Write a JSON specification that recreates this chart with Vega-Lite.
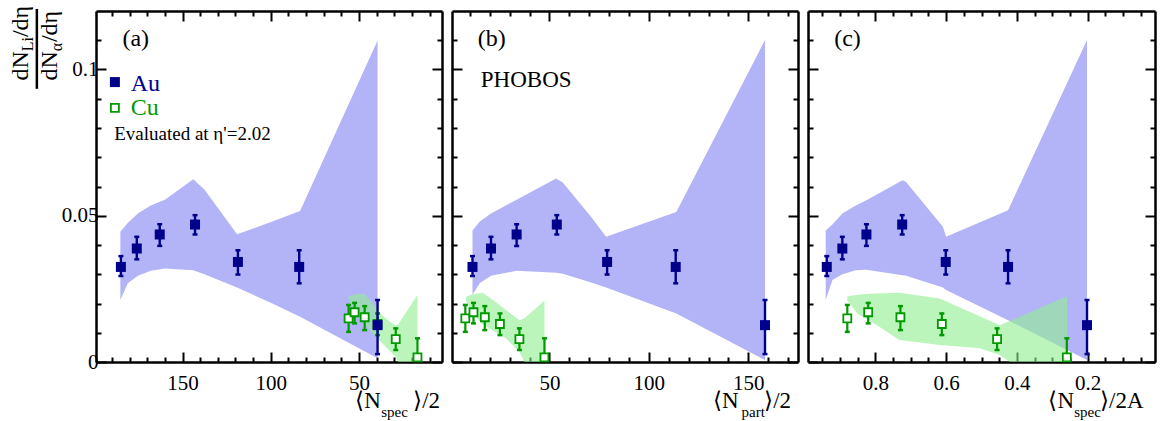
{
  "$schema": "https://vega.github.io/schema/vega-lite/v6.json",
  "description": "Li to alpha yield ratio vs centrality for Au and Cu, three x variables.",
  "padding": {"left": 8, "top": 5, "right": 5, "bottom": 0},
  "spacing": 8,
  "config": {
    "font": "Liberation Serif",
    "view": {"stroke": null},
    "axis": {
      "domainColor": "black",
      "domainWidth": 2.5,
      "tickColor": "black",
      "tickWidth": 2,
      "grid": false,
      "labelFont": "Liberation Serif",
      "labelFontSize": 21,
      "labelColor": "black",
      "labelOverlap": false,
      "labelFlush": false
    }
  },
  "datasets": {
    "au": [
      {"spec": 184.9, "part": 11.3, "frac": 0.937, "r": 0.0325, "lo": 0.0294, "hi": 0.0362},
      {"spec": 175.9, "part": 20.6, "frac": 0.893, "r": 0.0388, "lo": 0.0351, "hi": 0.0428},
      {"spec": 162.9, "part": 33.5, "frac": 0.825, "r": 0.0436, "lo": 0.0397, "hi": 0.0471},
      {"spec": 142.9, "part": 53.7, "frac": 0.724, "r": 0.0470, "lo": 0.0436, "hi": 0.0502},
      {"spec": 118.6, "part": 79.0, "frac": 0.601, "r": 0.0342, "lo": 0.0299, "hi": 0.0382},
      {"spec": 83.9, "part": 113.5, "frac": 0.425, "r": 0.0325, "lo": 0.0269, "hi": 0.0382},
      {"spec": 39.5, "part": 158.4, "frac": 0.202, "r": 0.0126, "lo": 0.0027, "hi": 0.0212}
    ],
    "cu": [
      {"spec": 55.9, "part": 7.7, "frac": 0.879, "r": 0.0149, "lo": 0.0103, "hi": 0.0195},
      {"spec": 52.5, "part": 11.8, "frac": 0.820, "r": 0.0170, "lo": 0.0132, "hi": 0.0202},
      {"spec": 46.8, "part": 17.5, "frac": 0.729, "r": 0.0153, "lo": 0.0109, "hi": 0.0191},
      {"spec": 39.5, "part": 25.1, "frac": 0.612, "r": 0.0130, "lo": 0.0092, "hi": 0.0166},
      {"spec": 29.2, "part": 34.9, "frac": 0.456, "r": 0.0078, "lo": 0.0041, "hi": 0.0115},
      {"spec": 16.9, "part": 47.5, "frac": 0.259, "r": 0.0016, "lo": -0.0050, "hi": 0.0081}
    ],
    "one": [{}],
    "auBandSpec": [
      {"x": 185.2, "lo": 0.0212, "hi": 0.0445},
      {"x": 181, "lo": 0.0269, "hi": 0.0475},
      {"x": 175.3, "lo": 0.0295, "hi": 0.0508},
      {"x": 168, "lo": 0.0312, "hi": 0.0535},
      {"x": 160, "lo": 0.032, "hi": 0.0555},
      {"x": 143.9, "lo": 0.0314, "hi": 0.0625},
      {"x": 137.6, "lo": 0.0300, "hi": 0.0590},
      {"x": 119.1, "lo": 0.0255, "hi": 0.0437},
      {"x": 99.1, "lo": 0.0200, "hi": 0.0480},
      {"x": 83.4, "lo": 0.0155, "hi": 0.0516},
      {"x": 39.5, "lo": 0.0013, "hi": 0.1099}
    ],
    "auBandPart": [
      {"x": 11.3, "lo": 0.023, "hi": 0.045},
      {"x": 15, "lo": 0.027, "hi": 0.048},
      {"x": 20.6, "lo": 0.0295, "hi": 0.0508},
      {"x": 33.5, "lo": 0.0312, "hi": 0.0555},
      {"x": 53.3, "lo": 0.0305, "hi": 0.0627},
      {"x": 56.7, "lo": 0.0302, "hi": 0.0614},
      {"x": 71, "lo": 0.0272, "hi": 0.0496},
      {"x": 78.5, "lo": 0.0255, "hi": 0.0428},
      {"x": 113.8, "lo": 0.0166, "hi": 0.0513},
      {"x": 158.4, "lo": 0.0007, "hi": 0.1101}
    ],
    "auBandFrac": [
      {"x": 0.94, "lo": 0.0212, "hi": 0.045},
      {"x": 0.921, "lo": 0.028, "hi": 0.047},
      {"x": 0.893, "lo": 0.030, "hi": 0.0508},
      {"x": 0.855, "lo": 0.0314, "hi": 0.0535},
      {"x": 0.825, "lo": 0.0315, "hi": 0.0553},
      {"x": 0.723, "lo": 0.0297, "hi": 0.0621},
      {"x": 0.713, "lo": 0.0295, "hi": 0.0615},
      {"x": 0.609, "lo": 0.0255, "hi": 0.0462},
      {"x": 0.6, "lo": 0.0246, "hi": 0.0428},
      {"x": 0.425, "lo": 0.0143, "hi": 0.0519},
      {"x": 0.202, "lo": 0.0007, "hi": 0.1101}
    ],
    "cuBandSpec": [
      {"x": 56, "lo": 0.0212, "hi": 0.0225},
      {"x": 52.5, "lo": 0.0166, "hi": 0.0232},
      {"x": 47.2, "lo": 0.0135, "hi": 0.0234},
      {"x": 42, "lo": 0.0095, "hi": 0.0200},
      {"x": 37.8, "lo": 0.0070, "hi": 0.0165},
      {"x": 33, "lo": 0.0040, "hi": 0.0140},
      {"x": 29.2, "lo": 0.0018, "hi": 0.0125},
      {"x": 27.7, "lo": 0, "hi": 0.0130},
      {"x": 16.9, "lo": 0, "hi": 0.0229}
    ],
    "cuBandPart": [
      {"x": 8, "lo": 0.021, "hi": 0.0223},
      {"x": 11.3, "lo": 0.0166, "hi": 0.0232},
      {"x": 16.4, "lo": 0.0128, "hi": 0.0237},
      {"x": 22, "lo": 0.0105, "hi": 0.021},
      {"x": 28.1, "lo": 0.0081, "hi": 0.0178},
      {"x": 34.9, "lo": 0.0035, "hi": 0.0143},
      {"x": 37.4, "lo": 0, "hi": 0.0150},
      {"x": 47.5, "lo": 0, "hi": 0.0209}
    ],
    "cuBandFrac": [
      {"x": 0.879, "lo": 0.021, "hi": 0.0225},
      {"x": 0.85, "lo": 0.0165, "hi": 0.023},
      {"x": 0.817, "lo": 0.0143, "hi": 0.0233},
      {"x": 0.732, "lo": 0.0075, "hi": 0.0237},
      {"x": 0.618, "lo": 0.0058, "hi": 0.0217},
      {"x": 0.505, "lo": 0.0047, "hi": 0.0156},
      {"x": 0.448, "lo": 0.0024, "hi": 0.0126},
      {"x": 0.42, "lo": 0, "hi": 0.0140},
      {"x": 0.372, "lo": 0, "hi": 0.0166},
      {"x": 0.258, "lo": 0, "hi": 0.0225}
    ]
  },
  "hconcat": [
    {
      "width": 346,
      "height": 351,
      "resolve": {"axis": {"x": "independent", "y": "independent"}},
      "layer": [
        {
          "data": {"name": "auBandSpec"},
          "mark": {"type": "area", "color": "#9a9af5", "opacity": 0.75, "clip": true},
          "encoding": {
            "x": {"field": "x", "type": "quantitative", "title": null,
              "scale": {"domain": [3, 199], "reverse": true, "nice": false, "zero": false},
              "axis": {"orient": "bottom", "title": null,
                "values": [10, 20, 30, 40, 50, 60, 70, 80, 90, 100, 110, 120, 130, 140, 150, 160, 170, 180, 190],
                "tickSize": {"condition": {"test": "datum.value % 50 === 0", "value": -10}, "value": -5},
                "labelExpr": "datum.value % 50 === 0 ? format(datum.value, 'd') : ''",
                "labelPadding": 20}},
            "y": {"field": "lo", "type": "quantitative", "title": null,
              "scale": {"domain": [0, 0.12], "nice": false, "zero": false},
              "axis": {"orient": "left", "title": null,
                "values": [0, 0.01, 0.02, 0.03, 0.04, 0.05, 0.06, 0.07, 0.08, 0.09, 0.1, 0.11],
                "tickSize": {"condition": {"test": "round(datum.value * 100) % 5 === 0", "value": -10}, "value": -5},
                "labelExpr": "round(datum.value * 100) === 0 ? '0' : round(datum.value * 100) === 5 ? '0.05' : round(datum.value * 100) === 10 ? '0.1' : ''",
                "labelPadding": 8}},
            "y2": {"field": "hi"}
          }
        },
        {
          "data": {"name": "cuBandSpec"},
          "mark": {"type": "area", "color": "#90ee90", "opacity": 0.6, "clip": true},
          "encoding": {
            "x": {"field": "x", "type": "quantitative",
              "axis": {"orient": "top", "title": null, "labels": false,
                "values": [10, 20, 30, 40, 50, 60, 70, 80, 90, 100, 110, 120, 130, 140, 150, 160, 170, 180, 190],
                "tickSize": {"condition": {"test": "datum.value % 50 === 0", "value": -10}, "value": -5}}},
            "y": {"field": "lo", "type": "quantitative",
              "axis": {"orient": "right", "title": null, "labels": false,
                "values": [0, 0.01, 0.02, 0.03, 0.04, 0.05, 0.06, 0.07, 0.08, 0.09, 0.1, 0.11],
                "tickSize": {"condition": {"test": "round(datum.value * 100) % 5 === 0", "value": -10}, "value": -5}}},
            "y2": {"field": "hi"}
          }
        },
        {
          "data": {"name": "cu"},
          "mark": {"type": "rule", "color": "#009900", "strokeWidth": 2.2, "clip": true},
          "encoding": {
            "x": {"field": "spec", "type": "quantitative", "axis": null},
            "y": {"field": "lo", "type": "quantitative", "axis": null},
            "y2": {"field": "hi"}
          }
        },
        {
          "data": {"name": "cu"},
          "mark": {"type": "tick", "orient": "horizontal", "size": 5, "thickness": 2.5, "color": "#009900", "opacity": 1, "clip": true},
          "encoding": {
            "x": {"field": "spec", "type": "quantitative", "axis": null},
            "y": {"field": "lo", "type": "quantitative", "axis": null}
          }
        },
        {
          "data": {"name": "cu"},
          "mark": {"type": "tick", "orient": "horizontal", "size": 5, "thickness": 2.5, "color": "#009900", "opacity": 1, "clip": true},
          "encoding": {
            "x": {"field": "spec", "type": "quantitative", "axis": null},
            "y": {"field": "hi", "type": "quantitative", "axis": null}
          }
        },
        {
          "data": {"name": "cu"},
          "mark": {"type": "point", "shape": "square", "size": 64, "filled": true, "fill": "white", "stroke": "#009900", "strokeWidth": 1.8, "opacity": 1},
          "encoding": {
            "x": {"field": "spec", "type": "quantitative", "axis": null},
            "y": {"field": "r", "type": "quantitative", "axis": null}
          }
        },
        {
          "data": {"name": "au"},
          "mark": {"type": "rule", "color": "#00008b", "strokeWidth": 2.4},
          "encoding": {
            "x": {"field": "spec", "type": "quantitative", "axis": null},
            "y": {"field": "lo", "type": "quantitative", "axis": null},
            "y2": {"field": "hi"}
          }
        },
        {
          "data": {"name": "au"},
          "mark": {"type": "tick", "orient": "horizontal", "size": 5, "thickness": 2.5, "color": "#00008b", "opacity": 1},
          "encoding": {
            "x": {"field": "spec", "type": "quantitative", "axis": null},
            "y": {"field": "lo", "type": "quantitative", "axis": null}
          }
        },
        {
          "data": {"name": "au"},
          "mark": {"type": "tick", "orient": "horizontal", "size": 5, "thickness": 2.5, "color": "#00008b", "opacity": 1},
          "encoding": {
            "x": {"field": "spec", "type": "quantitative", "axis": null},
            "y": {"field": "hi", "type": "quantitative", "axis": null}
          }
        },
        {
          "data": {"name": "au"},
          "mark": {"type": "point", "shape": "square", "size": 100, "filled": true, "color": "#00008b", "opacity": 1},
          "encoding": {
            "x": {"field": "spec", "type": "quantitative", "axis": null},
            "y": {"field": "r", "type": "quantitative", "axis": null}
          }
        },
        {
          "data": {"name": "one"},
          "mark": {"type": "text", "text": "(a)", "fontSize": 24, "align": "left", "baseline": "alphabetic"},
          "encoding": {"x": {"datum": 184, "type": "quantitative", "axis": null}, "y": {"datum": 0.1082, "type": "quantitative", "axis": null}}
        },
        {
          "data": {"name": "one"},
          "mark": {"type": "point", "shape": "square", "size": 100, "filled": true, "color": "#00008b", "opacity": 1},
          "encoding": {"x": {"datum": 188.3, "type": "quantitative", "axis": null}, "y": {"datum": 0.0957, "type": "quantitative", "axis": null}}
        },
        {
          "data": {"name": "one"},
          "mark": {"type": "text", "text": "Au", "fontSize": 24, "color": "#00008b", "align": "left", "baseline": "alphabetic"},
          "encoding": {"x": {"datum": 179.3, "type": "quantitative", "axis": null}, "y": {"datum": 0.0926, "type": "quantitative", "axis": null}}
        },
        {
          "data": {"name": "one"},
          "mark": {"type": "point", "shape": "square", "size": 64, "filled": true, "fill": "white", "stroke": "#009900", "strokeWidth": 1.8, "opacity": 1},
          "encoding": {"x": {"datum": 188.3, "type": "quantitative", "axis": null}, "y": {"datum": 0.0869, "type": "quantitative", "axis": null}}
        },
        {
          "data": {"name": "one"},
          "mark": {"type": "text", "text": "Cu", "fontSize": 24, "color": "#009900", "align": "left", "baseline": "alphabetic"},
          "encoding": {"x": {"datum": 179.3, "type": "quantitative", "axis": null}, "y": {"datum": 0.0843, "type": "quantitative", "axis": null}}
        },
        {
          "data": {"name": "one"},
          "mark": {"type": "text", "text": "Evaluated at η'=2.02", "fontSize": 19, "align": "left", "baseline": "alphabetic"},
          "encoding": {"x": {"datum": 188.7, "type": "quantitative", "axis": null}, "y": {"datum": 0.0758, "type": "quantitative", "axis": null}}
        },
        {
          "data": {"name": "one"},
          "mark": {"type": "text", "text": "dN", "fontSize": 24, "angle": 270, "align": "left", "baseline": "alphabetic"},
          "encoding": {"x": {"datum": 237.7, "type": "quantitative", "axis": null}, "y": {"datum": 0.0962, "type": "quantitative", "axis": null}}
        },
        {
          "data": {"name": "one"},
          "mark": {"type": "text", "text": "Li", "fontSize": 16, "angle": 270, "align": "left", "baseline": "alphabetic", "dx": 29.3, "dy": 5},
          "encoding": {"x": {"datum": 237.7, "type": "quantitative", "axis": null}, "y": {"datum": 0.0962, "type": "quantitative", "axis": null}}
        },
        {
          "data": {"name": "one"},
          "mark": {"type": "text", "text": "/dη", "fontSize": 24, "angle": 270, "align": "left", "baseline": "alphabetic", "dx": 43.5},
          "encoding": {"x": {"datum": 237.7, "type": "quantitative", "axis": null}, "y": {"datum": 0.0962, "type": "quantitative", "axis": null}}
        },
        {
          "data": {"name": "one"},
          "mark": {"type": "rule", "color": "black", "strokeWidth": 2.5},
          "encoding": {"x": {"datum": 232.5, "type": "quantitative", "axis": null}, "y": {"datum": 0.1207, "type": "quantitative", "axis": null}, "y2": {"datum": 0.0934}}
        },
        {
          "data": {"name": "one"},
          "mark": {"type": "text", "text": "dN", "fontSize": 24, "angle": 270, "align": "left", "baseline": "alphabetic"},
          "encoding": {"x": {"datum": 221, "type": "quantitative", "axis": null}, "y": {"datum": 0.0962, "type": "quantitative", "axis": null}}
        },
        {
          "data": {"name": "one"},
          "mark": {"type": "text", "text": "α", "fontSize": 16, "angle": 270, "align": "left", "baseline": "alphabetic", "dx": 29.3, "dy": 5},
          "encoding": {"x": {"datum": 221, "type": "quantitative", "axis": null}, "y": {"datum": 0.0962, "type": "quantitative", "axis": null}}
        },
        {
          "data": {"name": "one"},
          "mark": {"type": "text", "text": "/dη", "fontSize": 24, "angle": 270, "align": "left", "baseline": "alphabetic", "dx": 38.5},
          "encoding": {"x": {"datum": 221, "type": "quantitative", "axis": null}, "y": {"datum": 0.0962, "type": "quantitative", "axis": null}}
        },
        {
          "data": {"name": "one"},
          "mark": {"type": "text", "text": "⟨N", "fontSize": 23, "align": "left", "baseline": "alphabetic"},
          "encoding": {"x": {"datum": 52.1, "type": "quantitative", "axis": null}, "y": {"datum": -0.0157, "type": "quantitative", "axis": null}}
        },
        {
          "data": {"name": "one"},
          "mark": {"type": "text", "text": "spec", "fontSize": 15, "align": "left", "baseline": "alphabetic"},
          "encoding": {"x": {"datum": 37.4, "type": "quantitative", "axis": null}, "y": {"datum": -0.0188, "type": "quantitative", "axis": null}}
        },
        {
          "data": {"name": "one"},
          "mark": {"type": "text", "text": "⟩/2", "fontSize": 23, "align": "left", "baseline": "alphabetic"},
          "encoding": {"x": {"datum": 19.3, "type": "quantitative", "axis": null}, "y": {"datum": -0.0157, "type": "quantitative", "axis": null}}
        }
      ]
    },
    {
      "width": 346,
      "height": 351,
      "resolve": {"axis": {"x": "independent", "y": "independent"}},
      "layer": [
        {
          "data": {"name": "auBandPart"},
          "mark": {"type": "area", "color": "#9a9af5", "opacity": 0.75, "clip": true},
          "encoding": {
            "x": {"field": "x", "type": "quantitative",
              "scale": {"domain": [1, 175], "nice": false, "zero": false},
              "axis": {"orient": "bottom", "title": null,
                "values": [10, 20, 30, 40, 50, 60, 70, 80, 90, 100, 110, 120, 130, 140, 150, 160, 170],
                "tickSize": {"condition": {"test": "datum.value % 50 === 0", "value": -10}, "value": -5},
                "labelExpr": "datum.value % 50 === 0 ? format(datum.value, 'd') : ''",
                "labelPadding": 20}},
            "y": {"field": "lo", "type": "quantitative",
              "scale": {"domain": [0, 0.12], "nice": false, "zero": false},
              "axis": {"orient": "left", "title": null, "labels": false,
                "values": [0, 0.01, 0.02, 0.03, 0.04, 0.05, 0.06, 0.07, 0.08, 0.09, 0.1, 0.11],
                "tickSize": {"condition": {"test": "round(datum.value * 100) % 5 === 0", "value": -10}, "value": -5}}},
            "y2": {"field": "hi"}
          }
        },
        {
          "data": {"name": "cuBandPart"},
          "mark": {"type": "area", "color": "#90ee90", "opacity": 0.6, "clip": true},
          "encoding": {
            "x": {"field": "x", "type": "quantitative",
              "axis": {"orient": "top", "title": null, "labels": false,
                "values": [10, 20, 30, 40, 50, 60, 70, 80, 90, 100, 110, 120, 130, 140, 150, 160, 170],
                "tickSize": {"condition": {"test": "datum.value % 50 === 0", "value": -10}, "value": -5}}},
            "y": {"field": "lo", "type": "quantitative",
              "axis": {"orient": "right", "title": null, "labels": false,
                "values": [0, 0.01, 0.02, 0.03, 0.04, 0.05, 0.06, 0.07, 0.08, 0.09, 0.1, 0.11],
                "tickSize": {"condition": {"test": "round(datum.value * 100) % 5 === 0", "value": -10}, "value": -5}}},
            "y2": {"field": "hi"}
          }
        },
        {
          "data": {"name": "cu"},
          "mark": {"type": "rule", "color": "#009900", "strokeWidth": 2.2, "clip": true},
          "encoding": {
            "x": {"field": "part", "type": "quantitative", "axis": null},
            "y": {"field": "lo", "type": "quantitative", "axis": null},
            "y2": {"field": "hi"}
          }
        },
        {
          "data": {"name": "cu"},
          "mark": {"type": "tick", "orient": "horizontal", "size": 5, "thickness": 2.5, "color": "#009900", "opacity": 1, "clip": true},
          "encoding": {
            "x": {"field": "part", "type": "quantitative", "axis": null},
            "y": {"field": "lo", "type": "quantitative", "axis": null}
          }
        },
        {
          "data": {"name": "cu"},
          "mark": {"type": "tick", "orient": "horizontal", "size": 5, "thickness": 2.5, "color": "#009900", "opacity": 1, "clip": true},
          "encoding": {
            "x": {"field": "part", "type": "quantitative", "axis": null},
            "y": {"field": "hi", "type": "quantitative", "axis": null}
          }
        },
        {
          "data": {"name": "cu"},
          "mark": {"type": "point", "shape": "square", "size": 64, "filled": true, "fill": "white", "stroke": "#009900", "strokeWidth": 1.8, "opacity": 1},
          "encoding": {
            "x": {"field": "part", "type": "quantitative", "axis": null},
            "y": {"field": "r", "type": "quantitative", "axis": null}
          }
        },
        {
          "data": {"name": "au"},
          "mark": {"type": "rule", "color": "#00008b", "strokeWidth": 2.4},
          "encoding": {
            "x": {"field": "part", "type": "quantitative", "axis": null},
            "y": {"field": "lo", "type": "quantitative", "axis": null},
            "y2": {"field": "hi"}
          }
        },
        {
          "data": {"name": "au"},
          "mark": {"type": "tick", "orient": "horizontal", "size": 5, "thickness": 2.5, "color": "#00008b", "opacity": 1},
          "encoding": {
            "x": {"field": "part", "type": "quantitative", "axis": null},
            "y": {"field": "lo", "type": "quantitative", "axis": null}
          }
        },
        {
          "data": {"name": "au"},
          "mark": {"type": "tick", "orient": "horizontal", "size": 5, "thickness": 2.5, "color": "#00008b", "opacity": 1},
          "encoding": {
            "x": {"field": "part", "type": "quantitative", "axis": null},
            "y": {"field": "hi", "type": "quantitative", "axis": null}
          }
        },
        {
          "data": {"name": "au"},
          "mark": {"type": "point", "shape": "square", "size": 100, "filled": true, "color": "#00008b", "opacity": 1},
          "encoding": {
            "x": {"field": "part", "type": "quantitative", "axis": null},
            "y": {"field": "r", "type": "quantitative", "axis": null}
          }
        },
        {
          "data": {"name": "one"},
          "mark": {"type": "text", "text": "(b)", "fontSize": 24, "align": "left", "baseline": "alphabetic"},
          "encoding": {"x": {"datum": 13.9, "type": "quantitative", "axis": null}, "y": {"datum": 0.1082, "type": "quantitative", "axis": null}}
        },
        {
          "data": {"name": "one"},
          "mark": {"type": "text", "text": "PHOBOS", "fontSize": 23, "align": "left", "baseline": "alphabetic"},
          "encoding": {"x": {"datum": 15.5, "type": "quantitative", "axis": null}, "y": {"datum": 0.0939, "type": "quantitative", "axis": null}}
        },
        {
          "data": {"name": "one"},
          "mark": {"type": "text", "text": "⟨N", "fontSize": 23, "align": "left", "baseline": "alphabetic"},
          "encoding": {"x": {"datum": 132.3, "type": "quantitative", "axis": null}, "y": {"datum": -0.0157, "type": "quantitative", "axis": null}}
        },
        {
          "data": {"name": "one"},
          "mark": {"type": "text", "text": "part", "fontSize": 15, "align": "left", "baseline": "alphabetic"},
          "encoding": {"x": {"datum": 146.6, "type": "quantitative", "axis": null}, "y": {"datum": -0.0188, "type": "quantitative", "axis": null}}
        },
        {
          "data": {"name": "one"},
          "mark": {"type": "text", "text": "⟩/2", "fontSize": 23, "align": "left", "baseline": "alphabetic"},
          "encoding": {"x": {"datum": 158, "type": "quantitative", "axis": null}, "y": {"datum": -0.0157, "type": "quantitative", "axis": null}}
        }
      ]
    },
    {
      "width": 347,
      "height": 351,
      "resolve": {"axis": {"x": "independent", "y": "independent"}},
      "layer": [
        {
          "data": {"name": "auBandFrac"},
          "mark": {"type": "area", "color": "#9a9af5", "opacity": 0.75, "clip": true},
          "encoding": {
            "x": {"field": "x", "type": "quantitative",
              "scale": {"domain": [0.01, 0.99], "reverse": true, "nice": false, "zero": false},
              "axis": {"orient": "bottom", "title": null,
                "values": [0.05, 0.1, 0.15, 0.2, 0.25, 0.3, 0.35, 0.4, 0.45, 0.5, 0.55, 0.6, 0.65, 0.7, 0.75, 0.8, 0.85, 0.9, 0.95],
                "tickSize": {"condition": {"test": "round(datum.value * 100) % 20 === 0", "value": -10}, "value": -5},
                "labelExpr": "round(datum.value * 100) % 20 === 0 ? format(datum.value, '.1f') : ''",
                "labelPadding": 20}},
            "y": {"field": "lo", "type": "quantitative",
              "scale": {"domain": [0, 0.12], "nice": false, "zero": false},
              "axis": {"orient": "left", "title": null, "labels": false,
                "values": [0, 0.01, 0.02, 0.03, 0.04, 0.05, 0.06, 0.07, 0.08, 0.09, 0.1, 0.11],
                "tickSize": {"condition": {"test": "round(datum.value * 100) % 5 === 0", "value": -10}, "value": -5}}},
            "y2": {"field": "hi"}
          }
        },
        {
          "data": {"name": "cuBandFrac"},
          "mark": {"type": "area", "color": "#90ee90", "opacity": 0.6, "clip": true},
          "encoding": {
            "x": {"field": "x", "type": "quantitative",
              "axis": {"orient": "top", "title": null, "labels": false,
                "values": [0.05, 0.1, 0.15, 0.2, 0.25, 0.3, 0.35, 0.4, 0.45, 0.5, 0.55, 0.6, 0.65, 0.7, 0.75, 0.8, 0.85, 0.9, 0.95],
                "tickSize": {"condition": {"test": "round(datum.value * 100) % 20 === 0", "value": -10}, "value": -5}}},
            "y": {"field": "lo", "type": "quantitative",
              "axis": {"orient": "right", "title": null, "labels": false,
                "values": [0, 0.01, 0.02, 0.03, 0.04, 0.05, 0.06, 0.07, 0.08, 0.09, 0.1, 0.11],
                "tickSize": {"condition": {"test": "round(datum.value * 100) % 5 === 0", "value": -10}, "value": -5}}},
            "y2": {"field": "hi"}
          }
        },
        {
          "data": {"name": "cu"},
          "mark": {"type": "rule", "color": "#009900", "strokeWidth": 2.2, "clip": true},
          "encoding": {
            "x": {"field": "frac", "type": "quantitative", "axis": null},
            "y": {"field": "lo", "type": "quantitative", "axis": null},
            "y2": {"field": "hi"}
          }
        },
        {
          "data": {"name": "cu"},
          "mark": {"type": "tick", "orient": "horizontal", "size": 5, "thickness": 2.5, "color": "#009900", "opacity": 1, "clip": true},
          "encoding": {
            "x": {"field": "frac", "type": "quantitative", "axis": null},
            "y": {"field": "lo", "type": "quantitative", "axis": null}
          }
        },
        {
          "data": {"name": "cu"},
          "mark": {"type": "tick", "orient": "horizontal", "size": 5, "thickness": 2.5, "color": "#009900", "opacity": 1, "clip": true},
          "encoding": {
            "x": {"field": "frac", "type": "quantitative", "axis": null},
            "y": {"field": "hi", "type": "quantitative", "axis": null}
          }
        },
        {
          "data": {"name": "cu"},
          "mark": {"type": "point", "shape": "square", "size": 64, "filled": true, "fill": "white", "stroke": "#009900", "strokeWidth": 1.8, "opacity": 1},
          "encoding": {
            "x": {"field": "frac", "type": "quantitative", "axis": null},
            "y": {"field": "r", "type": "quantitative", "axis": null}
          }
        },
        {
          "data": {"name": "au"},
          "mark": {"type": "rule", "color": "#00008b", "strokeWidth": 2.4},
          "encoding": {
            "x": {"field": "frac", "type": "quantitative", "axis": null},
            "y": {"field": "lo", "type": "quantitative", "axis": null},
            "y2": {"field": "hi"}
          }
        },
        {
          "data": {"name": "au"},
          "mark": {"type": "tick", "orient": "horizontal", "size": 5, "thickness": 2.5, "color": "#00008b", "opacity": 1},
          "encoding": {
            "x": {"field": "frac", "type": "quantitative", "axis": null},
            "y": {"field": "lo", "type": "quantitative", "axis": null}
          }
        },
        {
          "data": {"name": "au"},
          "mark": {"type": "tick", "orient": "horizontal", "size": 5, "thickness": 2.5, "color": "#00008b", "opacity": 1},
          "encoding": {
            "x": {"field": "frac", "type": "quantitative", "axis": null},
            "y": {"field": "hi", "type": "quantitative", "axis": null}
          }
        },
        {
          "data": {"name": "au"},
          "mark": {"type": "point", "shape": "square", "size": 100, "filled": true, "color": "#00008b", "opacity": 1},
          "encoding": {
            "x": {"field": "frac", "type": "quantitative", "axis": null},
            "y": {"field": "r", "type": "quantitative", "axis": null}
          }
        },
        {
          "data": {"name": "one"},
          "mark": {"type": "text", "text": "(c)", "fontSize": 24, "align": "left", "baseline": "alphabetic"},
          "encoding": {"x": {"datum": 0.916, "type": "quantitative", "axis": null}, "y": {"datum": 0.1082, "type": "quantitative", "axis": null}}
        },
        {
          "data": {"name": "one"},
          "mark": {"type": "text", "text": "⟨N", "fontSize": 23, "align": "left", "baseline": "alphabetic"},
          "encoding": {"x": {"datum": 0.311, "type": "quantitative", "axis": null}, "y": {"datum": -0.0157, "type": "quantitative", "axis": null}}
        },
        {
          "data": {"name": "one"},
          "mark": {"type": "text", "text": "spec", "fontSize": 15, "align": "left", "baseline": "alphabetic"},
          "encoding": {"x": {"datum": 0.238, "type": "quantitative", "axis": null}, "y": {"datum": -0.0188, "type": "quantitative", "axis": null}}
        },
        {
          "data": {"name": "one"},
          "mark": {"type": "text", "text": "⟩/2A", "fontSize": 23, "align": "left", "baseline": "alphabetic"},
          "encoding": {"x": {"datum": 0.165, "type": "quantitative", "axis": null}, "y": {"datum": -0.0157, "type": "quantitative", "axis": null}}
        }
      ]
    }
  ]
}
